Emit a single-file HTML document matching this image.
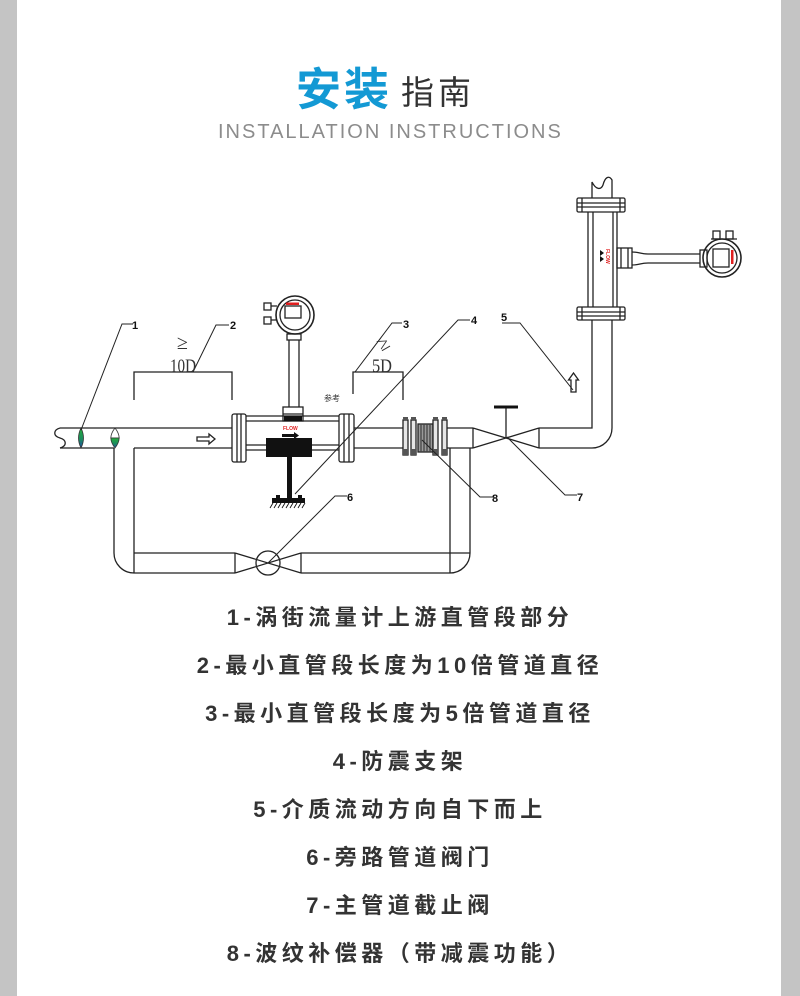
<!DOCTYPE html>
<html><head><meta charset="utf-8">
<style>
html,body{margin:0;padding:0;background:#fff;}
body{width:800px;height:996px;position:relative;overflow:hidden;}
svg{position:absolute;left:0;top:0;}
</style></head><body>
<svg width="800" height="996" viewBox="0 0 800 996" xmlns="http://www.w3.org/2000/svg">
<defs>
<linearGradient id="g1" x1="0" y1="0" x2="0" y2="1">
<stop offset="0" stop-color="#24ad3c"/><stop offset="0.55" stop-color="#1b8c5c"/><stop offset="1" stop-color="#1f4fa8"/>
</linearGradient>
</defs>
<rect x="0" y="0" width="17" height="996" fill="#c4c4c4"/>
<rect x="781" y="0" width="19" height="996" fill="#c4c4c4"/>

<!-- Title -->
<text x="296" y="105" font-family="'Liberation Sans','Noto Sans CJK SC',sans-serif" font-size="45" font-weight="700" fill="#1399d4" letter-spacing="3">安装</text>
<text x="401" y="104" font-family="'Liberation Sans','Noto Sans CJK SC',sans-serif" font-size="33" fill="#333" letter-spacing="4">指南</text>
<text x="218" y="138" font-family="'Liberation Sans',sans-serif" font-size="20" fill="#8c8c8c" letter-spacing="2">INSTALLATION INSTRUCTIONS</text>

<!-- Diagram lines -->
<g stroke="#222" stroke-width="1.3" fill="none">
  <!-- main pipe left -->
  <path d="M60,428 H232 M60,448 H114 M134,448 H232"/>
  <path d="M60,428 C53,430 53,436 60,438 C67,440 67,446 60,448"/>
  <!-- bypass -->
  <path d="M114,448 V553 A20,20 0 0 0 134,573 H235 M134,448 V573 M134,553 H235 M235,553 V573"/>
  <path d="M235,553 L301,573 M235,573 L301,553 M301,553 V573"/>
  <circle cx="268" cy="563" r="12"/>
  <path d="M301,553 H470 M301,573 H450 A20,20 0 0 0 470,553 V448 M450,448 V573"/>
  <!-- main pipe middle -->
  <path d="M354,428 H403 M354,448 H403 M447,428 H473 M447,448 H473"/>
  <!-- main valve -->
  <path d="M473,428 V448 M473,428 L539,448 M473,448 L539,428 M539,428 V448 M506,438 V407"/>
  <!-- right pipe & riser -->
  <path d="M539,428 H592 V320 M539,448 H592 A20,20 0 0 0 612,428 V320"/>
  <!-- vertical meter -->
  <path d="M588,212 V307 M593,212 V307 M613,212 V307 M617,212 V307"/>
  <rect x="577" y="307" width="48" height="13" rx="1.5"/>
  <path d="M577,312 H625 M577,316 H625 M582,307 V320 M620,307 V320"/>
  <rect x="577" y="198" width="48" height="14" rx="1.5"/>
  <path d="M577,203 H625 M577,207 H625 M582,198 V212 M620,198 V212"/>
  <path d="M592,198 V182 C596,190 601,190 603,185 C605,177 609,175 612,180 V198"/>
  <!-- side transmitter of vertical meter -->
  <rect x="617" y="248" width="15" height="20"/>
  <path d="M621,248 V268 M628,248 V268"/>
  <path d="M632,252 C640,252 640,254 648,254 H700 M632,265 C640,265 640,263 648,263 H700"/>
  <rect x="700" y="250" width="7" height="17"/>
  <circle cx="722" cy="258" r="19" stroke-width="1.6"/>
  <circle cx="722" cy="258" r="15"/>
  <rect x="713" y="249" width="16" height="18"/>
  <rect x="713" y="231" width="7" height="8"/>
  <rect x="726" y="231" width="7" height="8"/>
  <path d="M711,239 H737"/>
  <!-- horizontal meter -->
  <path d="M246,416 H339 M246,421 H339 M246,445 H339 M246,450 H339"/>
  <rect x="232" y="414" width="14" height="48" rx="2"/>
  <path d="M237,414 V462 M241,414 V462"/>
  <rect x="339" y="414" width="15" height="48" rx="2"/>
  <path d="M344,414 V462 M349,414 V462"/>
  <!-- transmitter -->
  <rect x="283" y="407" width="20" height="14"/>
  <path d="M283,414 H303"/>
  <path d="M289,340 V407 M299,340 V407"/>
  <rect x="287" y="334" width="14" height="6"/>
  <circle cx="295" cy="315" r="19" stroke-width="1.6"/>
  <circle cx="295" cy="315" r="15"/>
  <rect x="285" y="306" width="16" height="12"/>
  <rect x="264" y="303" width="7" height="7"/>
  <rect x="264" y="317" width="7" height="7"/>
  <path d="M271,306 H277 M271,320 H277"/>
  <!-- dimension brackets -->
  <path d="M134,400 V372 H232 V400"/>
  <path d="M353,394 V372 H403 V400"/>
  <!-- expansion joint -->
  <rect x="418" y="424" width="15" height="28" fill="#9a9a9a"/>
  <path d="M421,424 V452 M424,424 V452 M427,424 V452 M430,424 V452" stroke="#444"/>
  <rect x="403" y="420" width="5" height="35" fill="#e6e6e6"/>
  <rect x="411" y="420" width="5" height="35" fill="#e6e6e6"/>
  <rect x="433" y="420" width="5" height="35" fill="#e6e6e6"/>
  <rect x="442" y="420" width="5" height="35" fill="#e6e6e6"/>
  <!-- up arrow -->
  <path d="M571,392 V380 H568.5 L573.5,373 L578.5,380 H576 V392 Z" fill="#fff"/>
  <!-- flow arrow -->
  <path d="M197,437 H209 V434 L215,439 L209,444 V441 H197 Z" fill="#fff"/>
</g>

<!-- filled parts -->
<g fill="#555">
  <rect x="403" y="449" width="5" height="6"/>
  <rect x="411" y="449" width="5" height="6"/>
  <rect x="433" y="449" width="5" height="6"/>
  <rect x="442" y="449" width="5" height="6"/>
  <rect x="403" y="417" width="5" height="3"/>
  <rect x="411" y="417" width="5" height="3"/>
  <rect x="433" y="417" width="5" height="3"/>
  <rect x="442" y="417" width="5" height="3"/>
</g>
<g fill="#111">
  <rect x="266" y="438" width="46" height="19"/>
  <rect x="287" y="457" width="5" height="41"/>
  <rect x="272" y="498" width="33" height="5"/>
  <rect x="276" y="495" width="4" height="3"/>
  <rect x="298" y="495" width="4" height="3"/>
  <path d="M282,434 H294 V432 L299,435.5 L294,439 V437 H282 Z"/>
  <rect x="494" y="405.5" width="24" height="3"/>
  <rect x="284" y="416" width="18" height="5"/>
  <path d="M600,250 L604,253 L600,256 Z M600,256 L604,259 L600,262 Z"/>
</g>
<g stroke="#111" stroke-width="0.9">
  <path d="M273,503 L270,508 M277,503 L274,508 M281,503 L278,508 M285,503 L282,508 M289,503 L286,508 M293,503 L290,508 M297,503 L294,508 M301,503 L298,508 M305,503 L302,508"/>
</g>
<!-- red display bars -->
<rect x="286" y="302.5" width="13" height="2.5" fill="#e02020"/>
<rect x="731" y="250" width="2.5" height="14" fill="#e02020"/>
<text x="283" y="430" font-family="'Liberation Sans',sans-serif" font-size="5" font-weight="700" fill="#e02020">FLOW</text>
<text transform="translate(606,249) rotate(90)" font-family="'Liberation Sans',sans-serif" font-size="5" font-weight="700" fill="#e02020">FLOW</text>

<!-- lenses -->
<path d="M81,428 Q86,438 81,448 Q76,438 81,428 Z" fill="url(#g1)" stroke="#333" stroke-width="0.8"/>
<path d="M115,428 Q119,433 119.2,438 H110.8 Q111,433 115,428 Z" fill="#fff" stroke="#333" stroke-width="0.8"/>
<path d="M110.8,438 H119.2 Q119,443 115,448 Q111,443 110.8,438 Z" fill="url(#g1)" stroke="#333" stroke-width="0.8"/>

<!-- leaders -->
<g stroke="#222" stroke-width="1" fill="none">
  <path d="M81,430 L122,324 H133"/>
  <path d="M193,372 L216,325 H229"/>
  <path d="M355,372 L392,323 H402"/>
  <path d="M295,494 L458,320 H470"/>
  <path d="M502,323 H520 L573,390"/>
  <path d="M268,563 L335,496 H347"/>
  <path d="M507,437 L565,495 H577"/>
  <path d="M422,440 L480,497 H493"/>
</g>
<g font-family="'Liberation Sans',sans-serif" font-size="11" font-weight="700" fill="#111">
  <text x="132" y="329">1</text>
  <text x="230" y="329">2</text>
  <text x="403" y="328">3</text>
  <text x="471" y="324">4</text>
  <text x="501" y="321">5</text>
  <text x="347" y="501">6</text>
  <text x="577" y="501">7</text>
  <text x="492" y="502">8</text>
</g>

<!-- dimension labels -->
<text x="177" y="349" font-family="'Liberation Serif',serif" font-size="20" fill="#333">≥</text>
<text x="170" y="372" font-family="'Liberation Serif',serif" font-size="19" fill="#333" textLength="26" lengthAdjust="spacingAndGlyphs">10D</text>
<text transform="rotate(-30 384 342)" x="377" y="349" font-family="'Liberation Serif',serif" font-size="20" fill="#333">≥</text>
<text x="372" y="372" font-family="'Liberation Serif',serif" font-size="19" fill="#333" textLength="20" lengthAdjust="spacingAndGlyphs">5D</text>
<text x="324" y="401" font-family="'Liberation Sans','Noto Sans CJK SC',sans-serif" font-size="8" fill="#333">参考</text>

<!-- list -->
<g font-family="'Liberation Sans','Noto Sans CJK SC',sans-serif" font-size="22" font-weight="700" fill="#333" letter-spacing="4.5" text-anchor="middle">
  <text x="400" y="625">1-涡街流量计上游直管段部分</text>
  <text x="400" y="673">2-最小直管段长度为10倍管道直径</text>
  <text x="400" y="721">3-最小直管段长度为5倍管道直径</text>
  <text x="400" y="769">4-防震支架</text>
  <text x="400" y="817">5-介质流动方向自下而上</text>
  <text x="400" y="865">6-旁路管道阀门</text>
  <text x="400" y="913">7-主管道截止阀</text>
  <text x="400" y="961">8-波纹补偿器（带减震功能）</text>
</g>
</svg>
</body></html>
